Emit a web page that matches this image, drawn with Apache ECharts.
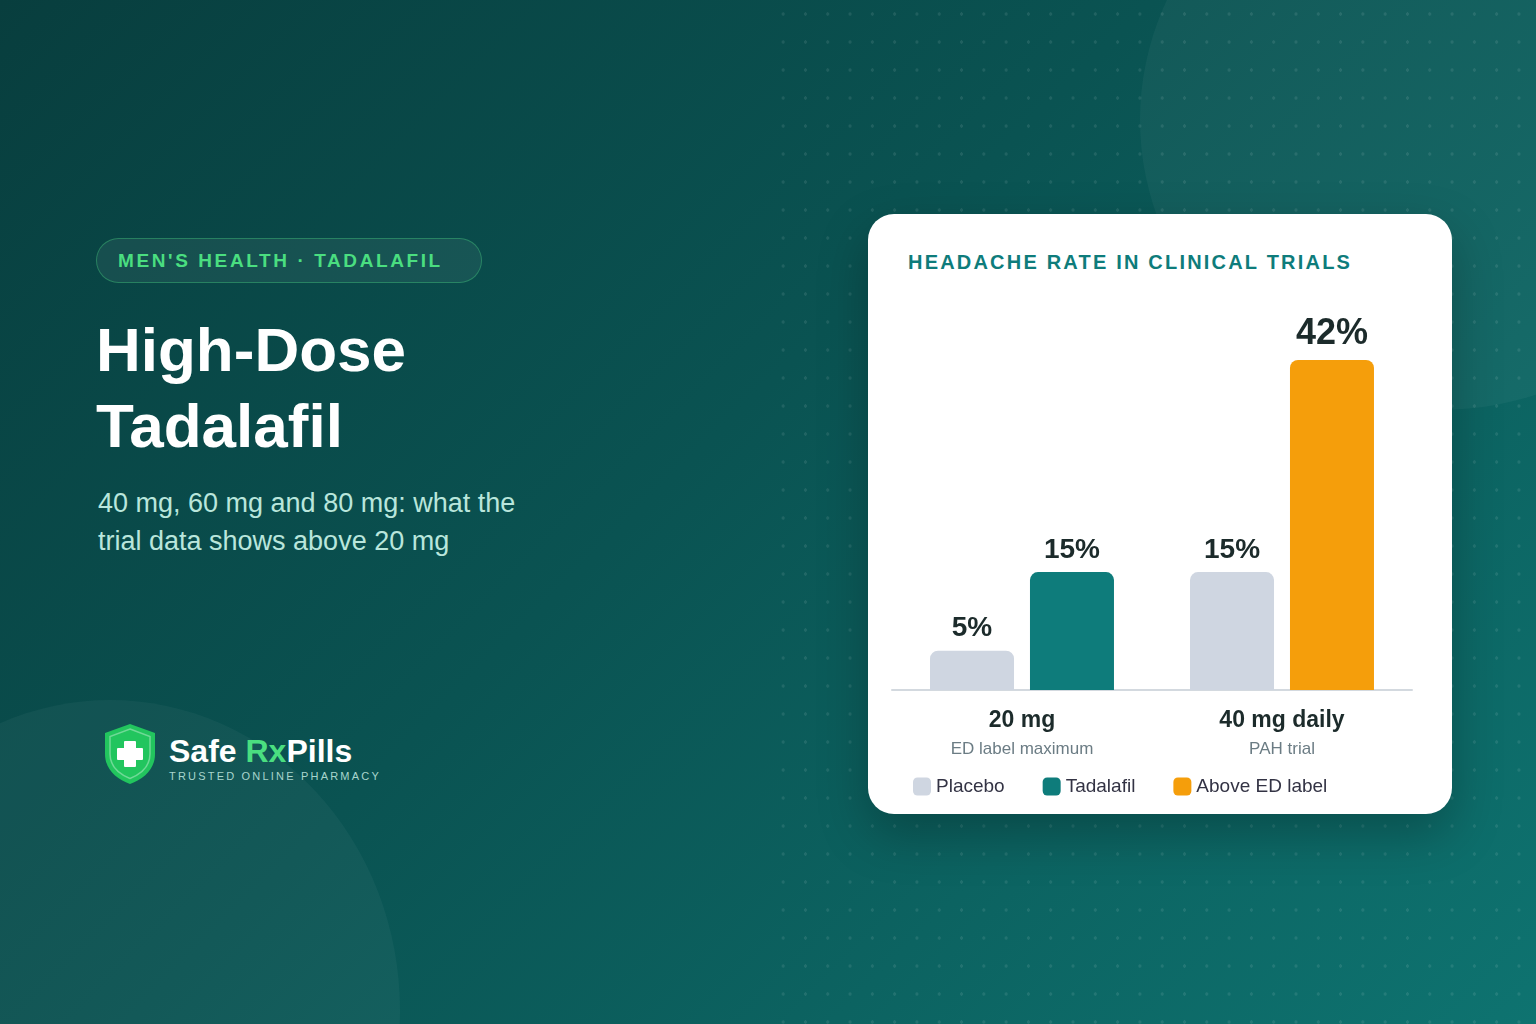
<!DOCTYPE html>
<html><head><meta charset="utf-8">
<script src="https://cdn.jsdelivr.net/npm/echarts@6/dist/echarts.min.js"></script>
<style>
html,body{margin:0;width:1536px;height:1024px;overflow:hidden;font-family:"Liberation Sans",Arial,sans-serif}
#bg{position:absolute;inset:0;background:linear-gradient(135deg,#083e3e 0%,#0a5352 45%,#0e7370 100%)}
.circ{position:absolute;border-radius:50%;background:rgba(255,255,255,0.04)}
#dots{position:absolute;left:770px;top:0;width:766px;height:1024px;background-image:radial-gradient(rgba(255,255,255,0.09) 1.3px,transparent 1.6px);background-size:22.3px 28px;background-position:2px 0}
#badge{position:absolute;left:96px;top:238px;width:386px;height:45px;border:1.5px solid rgba(74,222,128,0.35);background:rgba(255,255,255,0.06);border-radius:24px;box-sizing:border-box;color:#4ade80;font-weight:bold;font-size:19px;letter-spacing:2.6px;line-height:44px;padding-left:21px}
#h1{position:absolute;left:96px;top:312px;color:#fff;font-weight:bold;font-size:62px;line-height:76px}
#sub{position:absolute;left:98px;top:484px;color:#b9e6dc;font-size:27px;line-height:38px}
#logo{position:absolute;left:102px;top:722px}
#brand{position:absolute;left:169px;top:733px;color:#fff;font-weight:bold;font-size:32px}
#brand span{color:#4ade80}
#tag{position:absolute;left:169px;top:770px;color:#a8d5cd;font-size:11px;letter-spacing:2.2px}
#card{position:absolute;left:868px;top:214px;width:584px;height:600px;background:#fff;border-radius:26px;box-shadow:0 20px 50px rgba(0,0,0,0.25)}
#ctitle{position:absolute;left:908px;top:251px;color:#0e7c7b;font-weight:bold;font-size:20px;letter-spacing:2.2px}
#chart{position:absolute;inset:0}
</style></head><body>
<div id="bg"></div>
<div class="circ" style="left:1140px;top:-170px;width:600px;height:580px"></div>
<div class="circ" style="left:-180px;top:700px;width:580px;height:620px"></div>
<div id="dots"></div>
<div id="badge">MEN'S HEALTH · TADALAFIL</div>
<div id="h1">High-Dose<br>Tadalafil</div>
<div id="sub">40 mg, 60 mg and 80 mg: what the<br>trial data shows above 20 mg</div>
<svg id="logo" width="56" height="64" viewBox="0 0 56 64"><path d="M28 2 L53 11 V32 C53 47 42 57 28 62 C14 57 3 47 3 32 V11 Z" fill="#22c55e"/><path d="M28 7 L48 14.5 V32 C48 44 39 52 28 56.5 C17 52 8 44 8 32 V14.5 Z" fill="none" stroke="rgba(255,255,255,0.35)" stroke-width="1.5"/><path d="M23 20 H33 V27 H40 V37 H33 V44 H23 V37 H16 V27 H23 Z" fill="#fff" stroke="#fff" stroke-width="2" stroke-linejoin="round"/></svg>
<div id="brand">Safe <span>Rx</span>Pills</div>
<div id="tag">TRUSTED ONLINE PHARMACY</div>
<div id="card"></div>
<div id="ctitle">HEADACHE RATE IN CLINICAL TRIALS</div>
<div id="chart"></div>
<script>
const categories=['20 mg','40 mg daily'];
const subLabels=['ED label maximum','PAH trial'];
const placebo=[5,15];
const tadalafil=[15,'-'];
const aboveLabel=['-',42];
const chart=echarts.init(document.getElementById('chart'));
const lbl={show:true,position:'top',distance:8,formatter:'{c}%',fontSize:28,fontWeight:'bold',color:'#1c2b2b',fontFamily:'Liberation Sans'};
const common={type:'bar',barWidth:84,barGap:'19%',itemStyle:{borderRadius:[8,8,0,0]},label:lbl};
chart.setOption({
  animation:false,
  grid:{left:892,width:520,top:297,height:393},
  xAxis:[{type:'category',data:categories,axisTick:{show:false},axisLine:{lineStyle:{color:'#d3d9df',width:2}},
    axisLabel:{margin:16,formatter:(v,i)=>'{a|'+v+'}\n{b|'+subLabels[i]+'}',rich:{a:{fontSize:23,fontWeight:'bold',color:'#1c2b2b',lineHeight:30,fontFamily:'Liberation Sans'},b:{fontSize:17,color:'#6b7c84',lineHeight:26,fontFamily:'Liberation Sans'}}}},
    {type:'category',data:categories,show:false}],
  yAxis:{type:'value',min:0,max:50,show:false,splitLine:{show:false}},
  legend:{left:908,top:772,itemWidth:18,itemHeight:18,itemGap:38,icon:'roundRect',textStyle:{fontSize:19,color:'#334',fontFamily:'Liberation Sans'},data:['Placebo','Tadalafil','Above ED label']},
  series:[
    Object.assign({},common,{name:'Placebo',xAxisIndex:0,data:placebo,itemStyle:{color:'#cfd6e1',borderRadius:[8,8,0,0]}}),
    Object.assign({},common,{name:'Tadalafil',xAxisIndex:0,data:tadalafil,itemStyle:{color:'#0e7c7b',borderRadius:[8,8,0,0]}}),
    Object.assign({},common,{name:'spacer',xAxisIndex:1,data:['-','-'],label:{show:false}}),
    Object.assign({},common,{name:'Above ED label',xAxisIndex:1,data:aboveLabel,itemStyle:{color:'#f59e0b',borderRadius:[8,8,0,0]},label:Object.assign({},lbl,{fontSize:36})})
  ]
});
</script>
</body></html>
